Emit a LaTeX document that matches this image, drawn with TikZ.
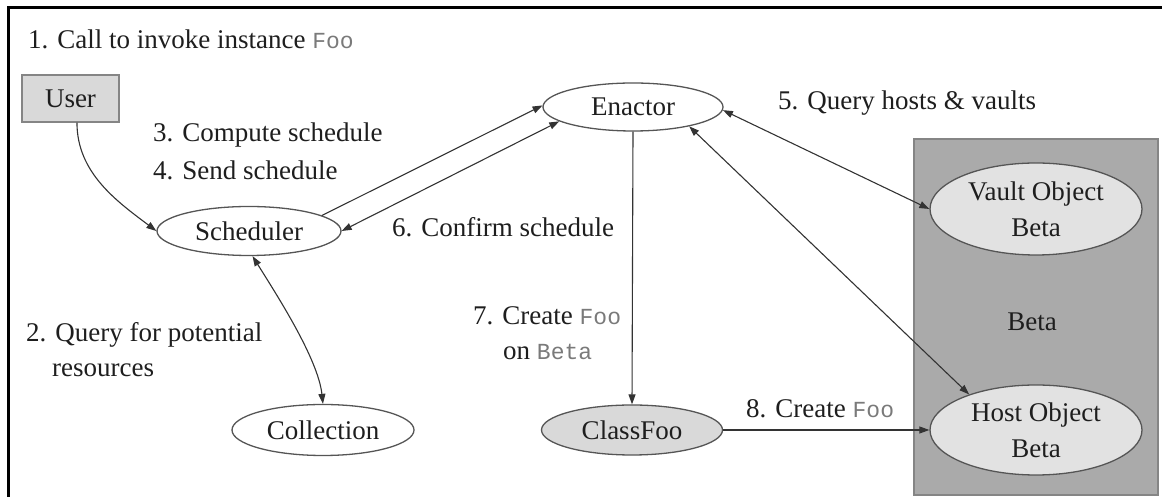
\documentclass[tikz,border=0pt]{standalone}
\usepackage{fontspec}
\setmainfont{Liberation Serif}
\setmonofont{Liberation Mono}
\usetikzlibrary{shapes.geometric,arrows.meta}

\definecolor{txt}{HTML}{1E1E1E}
\definecolor{edge}{HTML}{555555}
\definecolor{linec}{HTML}{333333}
\definecolor{usrfill}{HTML}{D9D9D9}
\definecolor{lightfill}{HTML}{E2E2E2}
\definecolor{boxfill}{HTML}{AAAAAA}
\definecolor{boxedge}{HTML}{858585}
\definecolor{codegray}{HTML}{7A7A7A}

% inline identifiers (Foo, Beta) set in a grey typewriter face
\newcommand\ident[1]{{\ttfamily\fontsize{23}{23}\selectfont\color{codegray}#1}}

\tikzset{
  every node/.style={font=\fontsize{27}{36}\selectfont, text=txt},
  oval/.style={ellipse, draw=edge, line width=1.3pt, inner sep=0pt, align=center},
  lbl/.style={anchor=base west, inner sep=0pt},
  conn/.style={draw=linec, line width=1.1pt},
  tip/.style={-{Triangle[length=10pt,width=7pt]}},
  tips/.style={{Triangle[length=10pt,width=7pt]}-{Triangle[length=10pt,width=7pt]}}
}

\begin{document}
\begin{tikzpicture}[x=1pt,y=1pt]
\useasboundingbox (0,0) rectangle (1162,497);

% outer frame (left and top edges)
\draw[line width=3pt] (8,0) -- (8,489) -- (1162,489);

% host cluster
\node[draw=boxedge, fill=boxfill, line width=1.2pt, minimum width=244pt,
      minimum height=356pt, inner sep=0pt] (beta) at (1036,180) {};
\node (betalbl) at (1032,175) {Beta};

% nodes
\node[draw=boxedge, fill=usrfill, line width=1.2pt, minimum width=97pt,
      minimum height=47pt, inner sep=0pt] (user) at (70.5,398.5) {User};
\node[oval, minimum width=184pt, minimum height=49pt] (sched) at (249,266) {Scheduler};
\node[oval, minimum width=180pt, minimum height=48pt] (enactor) at (633,390) {Enactor};
\node[oval, minimum width=182pt, minimum height=51pt] (coll) at (323,67) {Collection};
\node[oval, fill=usrfill, minimum width=181pt, minimum height=50pt] (classfoo) at (632,67) {ClassFoo};
\node[oval, fill=lightfill, minimum width=212pt, minimum height=92pt] (vault) at (1036,288) {Vault Object\\Beta};
\node[oval, fill=lightfill, minimum width=212pt, minimum height=90pt] (host) at (1036,67) {Host Object\\Beta};

% connectors
\draw[conn, tip] (user.-75) .. controls +(0,-50) and +(-40,30) .. (sched.west);
\draw[conn, tips] (sched.-82) .. controls +(25,-40) and +(-5,45) .. (coll.north);
\draw[conn, tip] (sched.12) -- (enactor.179);
\draw[conn, tips] (sched.east) -- (enactor.191);
\draw[conn, tip] (enactor.south) -- (classfoo.north);
\draw[conn, tips] (enactor.-2) -- (vault.west);
\draw[conn, tips] (enactor.-19) -- (host.152);
\draw[conn, tip] (classfoo.east) -- (host.west);

% step labels
\node[lbl] (l1) at (28,448) {1. Call to invoke instance \ident{Foo}};
\node[lbl] (l3) at (153,355) {3. Compute schedule};
\node[lbl] (l4) at (153,317) {4. Send schedule};
\node[lbl] (l5) at (778,387) {5. Query hosts \& vaults};
\node[lbl] (l6) at (392,260) {6. Confirm schedule};
\node[lbl] (l2a) at (26,155) {2. Query for potential};
\node[lbl] (l2b) at (52,120) {resources};
\node[lbl] (l7a) at (473,172) {7. Create \ident{Foo}};
\node[lbl] (l7b) at (503,137) {on \ident{Beta}};
\node[lbl] (l8) at (746,79) {8. Create \ident{Foo}};
\end{tikzpicture}
\end{document}
